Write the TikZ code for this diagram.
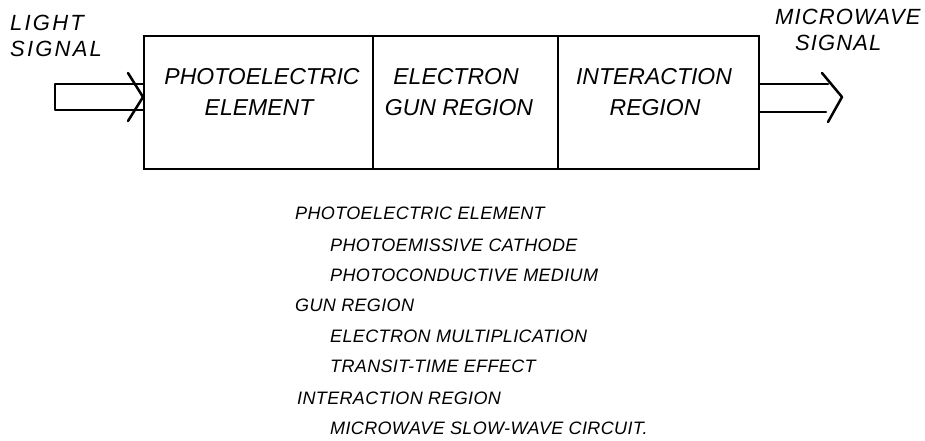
\documentclass[tikz,border=0pt]{standalone}
\usepackage{fontspec}
\setmainfont{Liberation Sans}
\newfontfamily\lblfont[LetterSpace=10]{Liberation Sans}
\newfontfamily\mwfont[LetterSpace=5]{Liberation Sans}
\newfontfamily\listfont[LetterSpace=2]{Liberation Sans}
\begin{document}
\begin{tikzpicture}[x=1pt,y=-1pt,
  boxtxt/.style={font=\itshape\fontsize{23}{26}\selectfont, inner sep=0pt, anchor=center},
  lbl/.style={font=\lblfont\itshape\fontsize{22}{24}\selectfont, inner sep=0pt, anchor=west},
  mw/.style={font=\mwfont\itshape\fontsize{22}{24}\selectfont, inner sep=0pt, anchor=west},
  listtxt/.style={font=\listfont\itshape\fontsize{18}{20}\selectfont, inner sep=0pt, anchor=west},
  box/.style={draw, line width=2.2pt, minimum height=133pt, inner sep=0pt},
  arr/.style={line width=2.5pt, line cap=round, line join=round}]
\useasboundingbox (0,0) rectangle (925,440);
% boxes
\node[box, minimum width=229pt, anchor=north west] (pe) at (143,35) {};
\node[box, minimum width=185pt, anchor=north west] (eg) at (372,35) {};
\node[box, minimum width=201pt, anchor=north west] (ir) at (557,35) {};
\node[boxtxt] (pe1) at (262,77) {PHOTOELECTRIC};
\node[boxtxt] (pe2) at (259,108) {ELEMENT};
\node[boxtxt] (eg1) at (456,77) {ELECTRON};
\node[boxtxt] (eg2) at (459,108) {GUN REGION};
\node[boxtxt] (ir1) at (654,77) {INTERACTION};
\node[boxtxt] (ir2) at (655,108) {REGION};
% input arrow
\coordinate (inA) at (55,84);
\coordinate (inB) at (55,110);
\coordinate (inTip) at (143,97);
\draw[arr] (pe.west |- inA) -- (inA) -- (inB) -- (pe.west |- inB);
\draw[arr] (128,73) -- (inTip) -- (128,121);
\node[lbl] (light) at (10,23) {LIGHT};
\node[lbl] (sig1) at (10,49) {SIGNAL};
% output arrow
\coordinate (outA) at (828,84);
\coordinate (outB) at (826,112);
\coordinate (outTip) at (842,97);
\draw[arr] (ir.east |- outA) -- (outA);
\draw[arr] (ir.east |- outB) -- (outB);
\draw[arr] (822,73) -- (outTip) -- (828,122);
\node[mw] (mw1) at (775,17) {MICROWAVE};
\node[mw] (mw2) at (795,43) {SIGNAL};
% list
\node[listtxt] (l1) at (295,213) {PHOTOELECTRIC ELEMENT};
\node[listtxt] (l2) at (330,245) {PHOTOEMISSIVE CATHODE};
\node[listtxt] (l3) at (330,275) {PHOTOCONDUCTIVE MEDIUM};
\node[listtxt] (l4) at (295,305) {GUN REGION};
\node[listtxt] (l5) at (330,336) {ELECTRON MULTIPLICATION};
\node[listtxt] (l6) at (330,366) {TRANSIT-TIME EFFECT};
\node[listtxt] (l7) at (297,398) {INTERACTION REGION};
\node[listtxt] (l8) at (330,428) {MICROWAVE SLOW-WAVE CIRCUIT.};
\end{tikzpicture}
\end{document}
